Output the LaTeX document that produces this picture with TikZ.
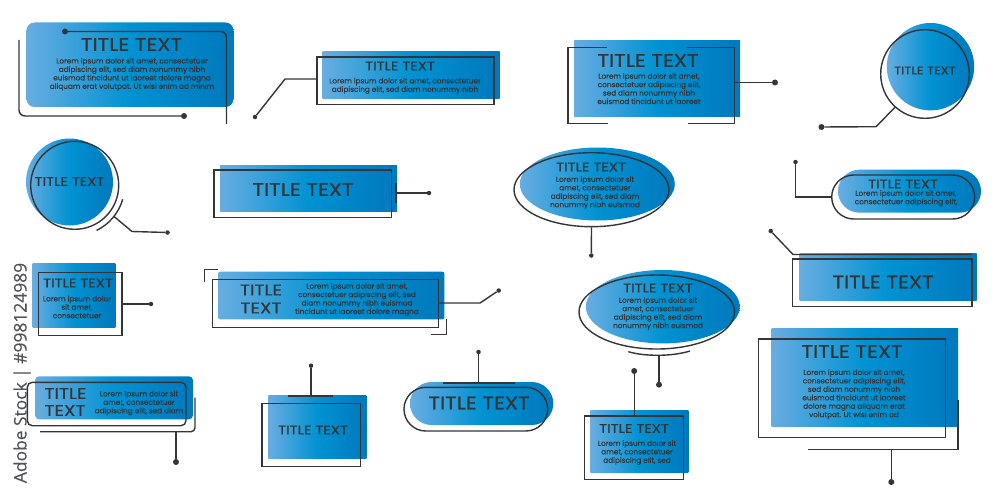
\documentclass[tikz,border=0pt]{standalone}
\usepackage{xcolor}
\usepackage{fontspec}
\setmainfont[FakeBold=0.25]{Poppins}
\newfontfamily\titlefont[FakeStretch=1.18,FakeBold=0.5]{Poppins}
\newfontfamily\stampfont[FakeBold=0.3]{Open Sans}
\usetikzlibrary{shapes.geometric, positioning}
\definecolor{blueL}{HTML}{68ADE1}
\definecolor{blueM}{HTML}{0092D2}
\definecolor{blueR}{HTML}{0078BD}
\definecolor{ink}{HTML}{333538}
\tikzstyle{panel} = [rectangle, inner sep=0pt, left color=blueL, right color=blueR, middle color=blueM, draw=none]
\tikzstyle{disc} = [panel, circle]
\tikzstyle{oval} = [panel, ellipse]
\tikzstyle{frame} = [rectangle, inner sep=0pt, draw=ink, line width=1.4pt]
\tikzstyle{ring} = [frame, circle]
\tikzstyle{loop} = [frame, ellipse]
\tikzstyle{wire} = [draw=ink, line width=1.4pt]
\tikzstyle{dot} = [circle, inner sep=0pt, minimum size=6pt, fill=ink]
\tikzstyle{smalldot} = [dot, minimum size=4.5pt]
\tikzstyle{title} = [inner sep=0pt, text=ink, align=center, font=\titlefont\fontsize{18}{18.5}\selectfont]
\tikzstyle{midtitle} = [title, font=\titlefont\fontsize{15.6}{18}\selectfont]
\tikzstyle{smalltitle} = [title, font=\titlefont\fontsize{12.4}{13}\selectfont]
\tikzstyle{body} = [inner sep=0pt, text=ink, align=center, font=\fontsize{7.3}{8.45}\selectfont]
\tikzset{size/.style 2 args={minimum width=#1pt, minimum height=#2pt}}

\begin{document}
\begin{tikzpicture}[x=1pt, y=-1pt]
		\useasboundingbox (0,0) rectangle (1000,500);

		\node (stamp) at (22,373) [rotate=90, text=ink!85, font=\stampfont\fontsize{17.4}{20}\selectfont]{Adobe Stock | \#998124989};

		\node (panelA) at (130,64.75) [panel, size={207}{84.5}, rounded corners=8pt]{};
		\node (titleA) at (131.5,44.5) [title]{TITLE TEXT};
		\node (bodyA) at (132,74.3) [body]{Lorem ipsum dolor sit amet, consectetuer\\adipiscing elit, sed diam nonummy nibh\\euismod tincidunt ut laoreet dolore magna\\aliquam erat volutpat. Ut wisi enim ad minim};
		\node (dotAtop) at (65,31.5) [dot]{};
		\node (dotAlow) at (184,116) [dot]{};
		\coordinate (endA) at (226.5,124);
		\coordinate (startA) at (19,40);
		\draw [wire, rounded corners=6pt] (dotAtop) -- (226.5,31.5) -- (endA);
		\draw [wire, rounded corners=6pt] (startA) -- (19,116) -- (dotAlow);

		\node (panelB) at (411,75) [panel, size={177}{47}]{};
		\node (frameB) at (405.5,80.75) [frame, size={177}{47.5}]{};
		\node (titleB) at (400,66) [smalltitle]{TITLE TEXT};
		\node (bodyB) at (405,85.8) [body]{Lorem ipsum dolor sit amet, consectetuer\\adipiscing elit, sed diam nonummy nibh};
		\node (dotB) at (255,117) [smalldot]{};
		\coordinate (bendB) at (285,79);
		\draw [wire] (frameB.west |- bendB) -- (bendB) -- (dotB);

		\node (discC) at (69.5,182) [disc, size={87}{87}]{};
		\node (ringC) at (74.7,185.3) [ring, size={88}{88}]{};
		\node (titleC) at (69.5,181.5) [smalltitle]{TITLE TEXT};
		\node (dotC) at (167.5,232.5) [smalldot]{};
		\coordinate (tapC) at (114.3,216.7);
		\coordinate (bendC) at (132,231.5);
		\draw [wire] (122.7,199.3) arc[start angle=-16, end angle=-64, radius=50pt];
		\draw [wire] (tapC) -- (bendC) -- (dotC);

		\node (panelD) at (308.5,188) [panel, size={177}{46}]{};
		\node (frameD) at (302.75,193.75) [frame, size={177.5}{47.5}]{};
		\node (titleD) at (303,189.5) [title]{TITLE TEXT};
		\node (dotD) at (429,193) [smalldot]{};
		\coordinate (tickD) at (396,193);
		\draw [wire] (396,183) -- (396,203);
		\draw [wire] (tickD) -- (dotD);

		\node (panelE) at (657,78.5) [panel, size={166}{76}]{};
		\node (titleE) at (648,60.5) [title]{TITLE TEXT};
		\node (bodyE) at (649,88.6) [body]{Lorem ipsum dolor sit amet,\\consectetuer adipiscing elit,\\sed diam nonummy nibh\\euismod tincidunt ut laoreet};
		\node (dotE) at (775,82.5) [dot]{};
		\coordinate (tickE) at (734.5,82.5);
		\draw [wire] (606.5,47.5) -- (568,47.5) -- (568,123.5) -- (607.5,123.5);
		\draw [wire] (686,47.5) -- (734.5,47.5) -- (734.5,123.5) -- (687.5,123.5);
		\draw [wire] (tickE) -- (dotE);

		\node (discF) at (930.5,66.7) [disc, size={87.4}{87.4}]{};
		\node (ringF) at (925,74) [ring, size={88.6}{88.6}]{};
		\node (titleF) at (925,70.5) [title, font=\titlefont\fontsize{11}{12}\selectfont]{TITLE TEXT};
		\node (dotF) at (821.5,127) [dot]{};
		\coordinate (tapF) at (895,107.3);
		\coordinate (bendF) at (876,126.7);
		\draw [wire] (tapF) -- (bendF) -- (dotF);

		\node (ovalG) at (597.3,184) [oval, size={155}{73}]{};
		\node (loopG) at (591.5,189.7) [loop, size={155}{74}]{};
		\node (titleG) at (591,167) [smalltitle]{TITLE TEXT};
		\node (bodyG) at (595,192.7) [body]{Lorem ipsum dolor sit\\amet, consectetuer\\adipiscing elit, sed diam\\nonummy nibh euismod};
		\node (dotG) at (591.3,255.5) [smalldot]{};
		\draw [wire] (loopG.south) -- (dotG);

		\node (pillH) at (909.5,191.2) [panel, size={143}{43}, rounded corners=21.5pt]{};
		\node (frameH) at (903.2,197) [frame, size={143}{44}, rounded corners=22pt]{};
		\node (titleH) at (903,184) [smalltitle]{TITLE TEXT};
		\node (bodyH) at (906,198.2) [body]{Lorem ipsum dolor sit amet,\\consectetuer adipiscing elit,};
		\node (dotH) at (795.5,162) [smalldot]{};
		\coordinate (bendH) at (795.5,197);
		\draw [wire] (frameH.west) -- (bendH) -- (dotH);

		\node (panelI) at (888,277.2) [panel, size={177}{47}]{};
		\node (frameI) at (882.4,282.8) [frame, size={179.3}{47.7}]{};
		\node (titleI) at (883,282) [title]{TITLE TEXT};
		\node (dotI) at (770.7,231) [smalldot]{};
		\coordinate (bendI) at (793,254.5);
		\coordinate (endI) at (972,254.5);
		\draw [wire] (dotI) -- (bendI) -- (endI);

		\node (panelJ) at (74,295.6) [panel, size={82.6}{63.3}]{};
		\node (frameJ) at (80.35,304) [frame, size={83.3}{63.4}]{};
		\node (titleJ) at (78,283) [smalltitle]{TITLE TEXT};
		\node (bodyJ) at (77,307) [body]{Lorem ipsum dolor\\sit amet,\\consectetuer};
		\node (dotJ) at (151,304) [smalldot]{};
		\draw [wire] (frameJ.east) -- (dotJ);

		\node (panelK) at (331.2,295.5) [panel, size={226.3}{47.6}, rounded corners=2pt]{};
		\node (frameK) at (325.5,303.5) [frame, size={226.4}{48.4}]{};
		\node (titleK) at (261,299) [midtitle]{TITLE\\TEXT};
		\node (bodyK) at (357,299.5) [body]{Lorem ipsum dolor sit amet,\\consectetuer adipiscing elit, sed\\diam nonummy nibh euismod\\tincidunt ut laoreet dolore magna};
		\node (dotK) at (498.7,290.5) [smalldot]{};
		\coordinate (bendK) at (480,303);
		\draw [wire] (218.3,269.7) -- (204.7,269.7) -- (204.7,282.3);
		\draw [wire] (446.7,319) -- (446.7,334.7) -- (430.7,334.7);
		\draw [wire] (frameK.east |- bendK) -- (bendK) -- (dotK);

		\node (ovalL) at (662.8,306.7) [oval, size={154}{73.4}]{};
		\node (loopL) at (656.8,312) [loop, size={155.6}{74}]{};
		\node (titleL) at (658,288) [smalltitle]{TITLE TEXT};
		\node (bodyL) at (658,313.6) [body]{Lorem ipsum dolor sit\\amet, consectetuer\\adipiscing elit, sed diam\\nonummy nibh euismod};
		\node (dotL) at (659,384.7) [dot]{};
		\coordinate (tapL) at (659,355.3);
		\draw [wire] (628.3,351.7) .. controls (645,356.6) and (672,356.6) .. (690,351);
		\draw [wire] (tapL) -- (dotL);

		\node (panelM) at (114,397.8) [panel, size={158}{43}, rounded corners=4pt]{};
		\node (frameM) at (106.65,404) [frame, size={158.7}{43.4}, rounded corners=5pt]{};
		\node (titleM) at (65.5,402) [midtitle, align=left, font=\titlefont\fontsize{15.6}{17}\selectfont]{TITLE\\TEXT};
		\node (bodyM) at (139,403) [body]{Lorem ipsum dolor sit\\amet, consectetuer\\adipiscing elit, sed diam};
		\node (dotM) at (176,462) [dot]{};
		\coordinate (tapM) at (176,431.7);
		\draw [wire, rounded corners=4pt] (40,431.7) -- (195,431.7) -- (195,397.7);
		\draw [wire] (tapM) -- (dotM);

		\node (panelN) at (317.3,426.8) [panel, size={98}{63}]{};
		\node (frameN) at (311.35,435) [frame, size={98.7}{63.4}]{};
		\node (titleN) at (313,430) [smalltitle]{TITLE TEXT};
		\node (dotN) at (311,365.7) [smalldot]{};
		\coordinate (tickN) at (311,396);
		\draw [wire] (288,396) -- (333.3,396);
		\draw [wire] (tickN) -- (dotN);

		\node (pillO) at (481.65,403.5) [panel, size={143.3}{43}, rounded corners=21.5pt]{};
		\node (frameO) at (475.85,409.15) [frame, size={143.7}{43.7}, rounded corners=21.8pt]{};
		\node (titleO) at (479,403) [title]{TITLE TEXT};
		\node (dotO) at (478.5,352) [smalldot]{};
		\coordinate (tickO) at (478.5,383);
		\draw [wire] (442.7,383) -- (515,383);
		\draw [wire] (tickO) -- (dotO);

		\node (panelP) at (639.3,441.35) [panel, size={98}{62.7}]{};
		\node (frameP) at (634.2,447.65) [frame, size={99}{63.3}]{};
		\node (titleP) at (634,428.5) [smalltitle]{TITLE TEXT};
		\node (bodyP) at (637,452.5) [body]{Lorem ipsum dolor sit\\amet, consectetuer\\adipiscing elit, sed};
		\node (dotP) at (634.2,371) [dot]{};
		\draw [wire] (frameP.north) -- (dotP);

		\node (panelQ) at (864.85,377.15) [panel, size={186.3}{97.7}]{};
		\node (frameQ) at (852.2,388.35) [frame, size={187}{98.7}]{};
		\node (titleQ) at (852,351.5) [title]{TITLE TEXT};
		\node (bodyQ) at (854,394.2) [body]{Lorem ipsum dolor sit amet,\\consectetuer adipiscing elit,\\sed diam nonummy nibh\\euismod tincidunt ut laoreet\\dolore magna aliquam erat\\volutpat. Ut wisi enim ad};
		\node (dotQ) at (891.3,482) [dot]{};
		\coordinate (tapQ) at (891.3,449.3);
		\draw [wire] (958,400) -- (958,449.3) -- (807.7,449.3);
		\draw [wire] (tapQ) -- (dotQ);
	\end{tikzpicture}
\end{document}
